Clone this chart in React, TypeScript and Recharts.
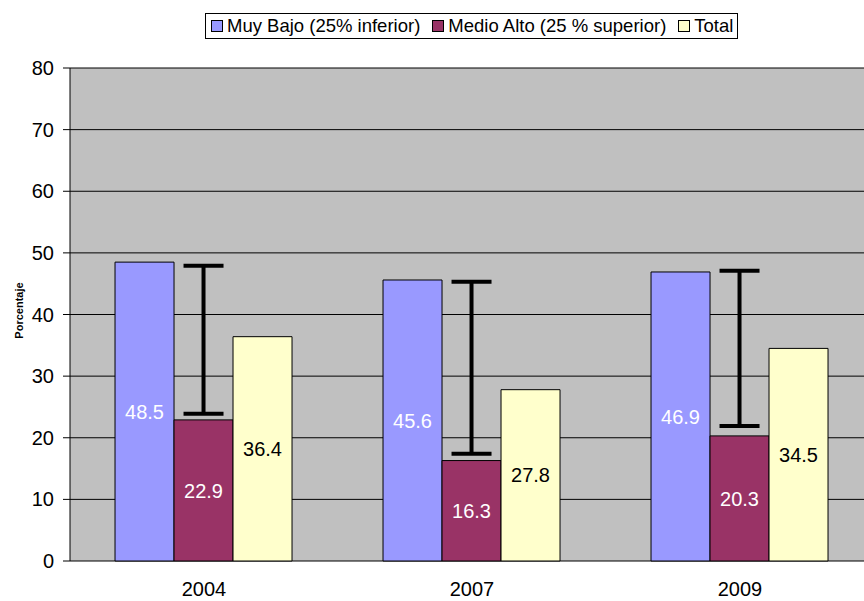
import { BarChart, Bar, XAxis, YAxis, CartesianGrid, ErrorBar, LabelList, Label } from "recharts";

const years = ["2004", "2007", "2009"];
const muyBajo = [48.5, 45.6, 46.9];
const medioAlto = [22.9, 16.3, 20.3];
const total = [36.4, 27.8, 34.5];
// extremos de la barra de error dibujada sobre "Medio Alto"
const errorMin = [23.9, 17.4, 21.9];
const errorMax = [47.9, 45.3, 47.1];
const yTicks = [0, 10, 20, 30, 40, 50, 60, 70, 80];
const bandTicks = [0, 1, 2, 3];

const data = years.map((year, i) => ({
  year,
  muyBajo: muyBajo[i],
  medioAlto: medioAlto[i],
  total: total[i],
  err: [medioAlto[i] - errorMin[i], errorMax[i] - medioAlto[i]],
}));

const series = [
  { key: "muyBajo", name: "Muy Bajo (25% inferior)", color: "#9999FF", label: "#FFFFFF" },
  { key: "medioAlto", name: "Medio Alto (25 % superior)", color: "#993366", label: "#FFFFFF" },
  { key: "total", name: "Total", color: "#FFFFCC", label: "#000000" },
];

const font = "'Liberation Sans', Arial, sans-serif";

export default function App() {
  return (
    <div
      style={{
        position: "absolute",
        left: 0,
        top: 0,
        width: 864,
        height: 601,
        overflow: "hidden",
        background: "#fff",
        fontFamily: font,
      }}
    >
      {/* leyenda con borde, como en el original */}
      <div
        style={{
          position: "absolute",
          left: 205,
          top: 13,
          height: 24,
          border: "1px solid #000",
          display: "flex",
          alignItems: "center",
          padding: "0 4px 0 5px",
          fontSize: 18.5,
          color: "#000",
          whiteSpace: "nowrap",
          zIndex: 2,
        }}
      >
        {series.map((s, i) => (
          <span key={s.key} style={{ display: "flex", alignItems: "center", marginLeft: i === 0 ? 0 : 12 }}>
            <span
              style={{
                display: "inline-block",
                width: 10,
                height: 10,
                background: s.color,
                border: "1px solid #000",
                marginRight: 4,
              }}
            />
            {s.name}
          </span>
        ))}
      </div>

      <BarChart
        width={890}
        height={601}
        data={data}
        margin={{ top: 68, right: 16, left: 0, bottom: 0 }}
        barCategoryGap="16.8%"
        barGap={0}
      >
        <CartesianGrid vertical={false} stroke="#000" fill="#C0C0C0" />
        <XAxis
          xAxisId="band"
          type="number"
          domain={[0, 3]}
          ticks={bandTicks}
          tick={false}
          tickSize={7}
          axisLine={{ stroke: "#000" }}
          tickLine={{ stroke: "#000" }}
          height={0}
          allowDataOverflow
        />
        <XAxis
          dataKey="year"
          axisLine={false}
          tickLine={false}
          tickMargin={15}
          height={40}
          tick={{ fill: "#000", fontSize: 20, fontFamily: font }}
        />
        <YAxis
          domain={[0, 80]}
          ticks={yTicks}
          width={70}
          tickSize={7}
          tickMargin={9}
          axisLine={{ stroke: "#000" }}
          tickLine={{ stroke: "#000" }}
          tick={{ fill: "#000", fontSize: 20, fontFamily: font }}
        >
          <Label
            value="Porcentaje"
            angle={-90}
            position="insideLeft"
            offset={19}
            dy={-4}
            style={{ fontSize: 11, fontWeight: "bold", fill: "#000", fontFamily: font, textAnchor: "middle" }}
          />
        </YAxis>
        {series.map((s) => (
          <Bar key={s.key} dataKey={s.key} name={s.name} fill={s.color} stroke="#000" strokeWidth={1} isAnimationActive={false}>
            <LabelList
              dataKey={s.key}
              position="center"
              fill={s.label}
              style={{ fontSize: 20, fontFamily: font }}
            />
            {s.key === "medioAlto" && (
              <ErrorBar dataKey="err" direction="y" width={20} strokeWidth={4} stroke="#000" isAnimationActive={false} />
            )}
          </Bar>
        ))}
      </BarChart>
    </div>
  );
}
